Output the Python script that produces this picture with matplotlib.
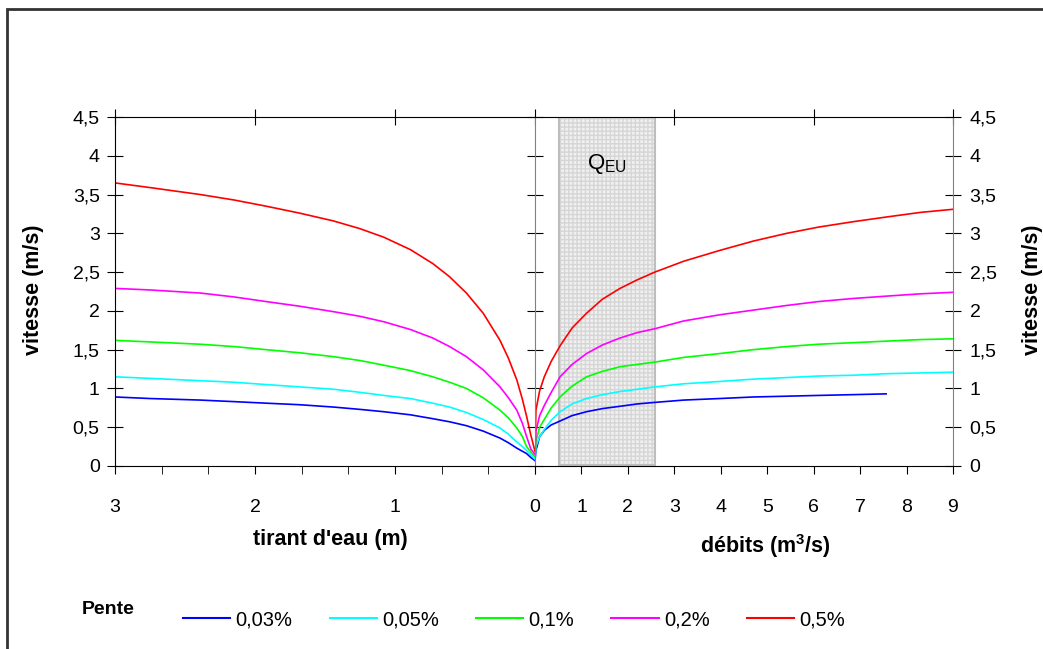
import numpy as np
import matplotlib.pyplot as plt
from matplotlib.patches import Rectangle
from matplotlib.lines import Line2D

plt.rcParams['font.family'] = ['Liberation Sans', 'DejaVu Sans']
plt.rcParams['mathtext.fontset'] = 'custom'
plt.rcParams['mathtext.rm'] = 'Liberation Sans'
plt.rcParams['mathtext.bf'] = 'Liberation Sans:bold'

# pentes (legend) and colours
slopes = ['0,03%', '0,05%', '0,1%', '0,2%', '0,5%']
colors = ['#0000FF', '#00FFFF', '#00FF00', '#FF00FF', '#FF0000']

# left panel: vitesse vs tirant d'eau (m)
depth = [0.0, 0.03, 0.06, 0.09, 0.13, 0.19, 0.25, 0.37, 0.49, 0.61, 0.73,
         0.89, 1.08, 1.25, 1.44, 1.68, 1.92, 2.15, 2.39, 2.75, 3.0]
v_depth = {
    '0,03%': [0.07, 0.11, 0.16, 0.19, 0.23, 0.30, 0.36, 0.45, 0.52, 0.57, 0.61,
              0.66, 0.70, 0.73, 0.76, 0.79, 0.81, 0.83, 0.85, 0.87, 0.89],
    '0,05%': [0.09, 0.14, 0.20, 0.25, 0.31, 0.41, 0.49, 0.60, 0.69, 0.76, 0.81,
              0.87, 0.91, 0.95, 0.99, 1.02, 1.05, 1.08, 1.10, 1.13, 1.15],
    '0,1%':  [0.12, 0.18, 0.25, 0.38, 0.49, 0.62, 0.72, 0.88, 1.00, 1.08, 1.15,
              1.23, 1.30, 1.36, 1.41, 1.46, 1.50, 1.54, 1.57, 1.60, 1.62],
    '0,2%':  [0.15, 0.22, 0.38, 0.55, 0.72, 0.88, 1.02, 1.24, 1.41, 1.54, 1.65,
              1.76, 1.86, 1.93, 1.99, 2.06, 2.12, 2.18, 2.23, 2.27, 2.29],
    '0,5%':  [0.19, 0.40, 0.64, 0.86, 1.11, 1.39, 1.62, 1.97, 2.23, 2.44, 2.61,
              2.79, 2.95, 3.06, 3.16, 3.26, 3.35, 3.43, 3.50, 3.59, 3.65],
}

# right panel: vitesse vs debits (m3/s)
q_flow = [0.0, 0.02, 0.1, 0.2, 0.35, 0.54, 0.8, 1.11, 1.45, 1.83, 2.2,
          2.58, 3.2, 3.98, 4.7, 5.42, 6.1, 6.85, 7.56, 8.3, 9.0]
v_flow = {
    '0,03%': [0.07, 0.20, 0.38, 0.46, 0.53, 0.58, 0.65, 0.70, 0.74, 0.77, 0.80,
              0.82, 0.85, 0.87, 0.89, 0.90, 0.91, 0.92, 0.93],
    '0,05%': [0.09, 0.25, 0.38, 0.47, 0.59, 0.70, 0.80, 0.87, 0.92, 0.96, 0.99,
              1.02, 1.06, 1.09, 1.12, 1.14, 1.16, 1.17, 1.19, 1.20, 1.21],
    '0,1%':  [0.12, 0.32, 0.50, 0.60, 0.75, 0.89, 1.03, 1.15, 1.22, 1.28, 1.31,
              1.34, 1.40, 1.45, 1.50, 1.54, 1.57, 1.59, 1.61, 1.63, 1.64],
    '0,2%':  [0.15, 0.45, 0.65, 0.78, 0.95, 1.15, 1.31, 1.45, 1.56, 1.65, 1.72,
              1.77, 1.87, 1.95, 2.01, 2.07, 2.12, 2.16, 2.19, 2.22, 2.24],
    '0,5%':  [0.19, 0.72, 0.97, 1.15, 1.35, 1.55, 1.78, 1.97, 2.15, 2.29, 2.40,
              2.50, 2.64, 2.78, 2.90, 3.00, 3.08, 3.15, 3.21, 3.27, 3.31],
}

# zone Q_EU (m3/s)
qeu_range = [0.52, 2.58]

y_ticks = [0, 0.5, 1, 1.5, 2, 2.5, 3, 3.5, 4, 4.5]
y_ticklabels = ['0', '0,5', '1', '1,5', '2', '2,5', '3', '3,5', '4', '4,5']

fig = plt.figure(figsize=(10.43, 6.49), dpi=100)
axL = fig.add_axes([115/1043, 1-466/649, 420/1043, 349/649])
axR = fig.add_axes([535/1043, 1-466/649, 418/1043, 349/649])

for s, c in zip(slopes, colors):
    axL.plot(depth, v_depth[s], color=c, lw=1.2)
    v = v_flow[s]
    axR.plot(q_flow[:len(v)], v, color=c, lw=1.2)

for ax in (axL, axR):
    ax.set_ylim(0, 4.5)
    ax.set_yticks(y_ticks)
    ax.tick_params(axis='x', which='both', direction='out', length=6, pad=18,
                   labelsize=14, top=False)
    ax.tick_params(axis='y', which='both', length=12, labelsize=14, pad=5)

# left panel
axL.set_xlim(3, 0)
axL.set_xticks([3, 2, 1])
axL.set_xticklabels(['3', '2', '1'])
axL.set_xticks(np.arange(0, 3.01, 1/3), minor=True)
axL.tick_params(axis='x', which='minor', length=6)
axL.set_yticklabels(y_ticklabels)
axL.tick_params(axis='y', direction='inout')
axL.spines['right'].set_visible(False)
topL = axL.secondary_xaxis('top')
topL.set_xticks([3, 2, 1, 0])
topL.set_xticklabels([])
topL.tick_params(direction='inout', length=12)
topL.spines['top'].set_visible(False)

# right panel
axR.set_xlim(0, 9)
axR.set_xticks(range(10))
axR.set_xticklabels([str(i) for i in range(10)])
axR.spines['left'].set_color('#808080')
axR.spines['right'].set_color('#808080')
axR.tick_params(axis='y', left=True, right=True, labelleft=False, labelright=True,
                direction='inout', pad=6)
axR.set_yticklabels(y_ticklabels)
topR = axR.secondary_xaxis('top')
topR.set_xticks([3, 6, 9])
topR.set_xticklabels([])
topR.tick_params(direction='inout', length=12)
topR.spines['top'].set_visible(False)

axR.add_patch(Rectangle((qeu_range[0], 0.01), qeu_range[1] - qeu_range[0], 4.49,
                        facecolor='#f0f0f0', edgecolor='#d6d6d6', hatch='++++',
                        lw=0, zorder=0.5))
axR.add_patch(Rectangle((qeu_range[0], 0.01), qeu_range[1] - qeu_range[0], 4.49,
                        fill=False, edgecolor='#bdbdbd', lw=1.5, zorder=0.6))
axR.text(np.mean(qeu_range), 3.9, r'Q$_{\mathrm{EU}}$', ha='center', va='center',
         fontsize=16)

# axis titles
fig.text(34/1043, 1-290/649, 'vitesse (m/s)', rotation=90, ha='center', va='center',
         fontsize=15.5, fontweight='bold')
fig.text(1.0, 1-290/649, 'vitesse (m/s)', rotation=90, ha='right', va='center',
         fontsize=15.5, fontweight='bold')
fig.text(330/1043, 1-539/649, "tirant d'eau (m)", ha='center', va='center',
         fontsize=15.5, fontweight='bold')
fig.text(765/1043, 1-546/649, r'débits (m$^{\mathbf{3}}$/s)', ha='center', va='center',
         fontsize=15.5, fontweight='bold')

# legend
fig.text(82/1043, 1-609/649, 'Pente', ha='left', va='center', fontsize=14,
         fontweight='bold')
handles = [Line2D([], [], color=c, lw=1.5) for c in colors]
fig.legend(handles, slopes, loc='center left', bbox_to_anchor=(183/1043, 1-620/649),
           ncol=5, frameon=False, fontsize=14.5, handlelength=2.35, handletextpad=0.25,
           columnspacing=1.85, borderpad=0, borderaxespad=0)

# outer frame
fig.add_artist(Rectangle((7/1043, -0.05), 1.1, 1-9/649 + 0.05, transform=fig.transFigure,
                         fill=False, edgecolor='#333333', lw=2))

fig.savefig('out.png', dpi=100)
